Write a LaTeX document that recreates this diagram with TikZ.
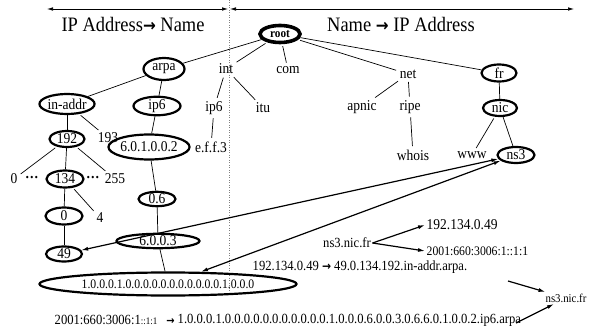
\documentclass[tikz,border=0pt]{standalone}
\usepackage{fontspec}
\setmainfont{Liberation Serif}[FakeStretch=0.9]
\newfontfamily\arrowfont{DejaVu Sans}[FakeStretch=0.9]
\usetikzlibrary{shapes.geometric,arrows.meta}

\tikzset{
  dom/.style={ellipse, draw, line width=2.2pt, inner sep=0pt, font=\fontsize{15}{15}\selectfont},
  lbl/.style={inner sep=1.5pt, font=\fontsize{15}{15}\selectfont},
  edge/.style={line width=0.7pt},
  tedge/.style={line width=0.7pt, shorten >=2pt, shorten <=2pt},
  link/.style={line width=1.2pt, {Latex[length=7pt,width=4pt]}-{Latex[length=7pt,width=4pt]}},
  oneway/.style={line width=1.2pt, -{Latex[length=7pt,width=4pt]}},
  title/.style={inner sep=0pt, font=\fontsize{20.5}{20.5}\selectfont},
}
\newcommand{\rarr}{{\arrowfont\bfseries →}}

\begin{document}
\begin{tikzpicture}[x=1pt,y=-1pt]
\useasboundingbox (0,0) rectangle (594,331);

% direction arrows and divider
\coordinate (lt) at (47,9);
\coordinate (lm) at (228,9);
\coordinate (rm) at (230,9);
\coordinate (rt) at (574,9);
\coordinate (dtop) at (229,0);
\coordinate (dbot) at (229,292);
\draw[line width=0.6pt, {Latex[length=6pt,width=3.5pt]}-{Latex[length=6pt,width=3.5pt]}] (lt) -- (lm);
\draw[line width=0.6pt, {Latex[length=6pt,width=3.5pt]}-{Latex[length=6pt,width=3.5pt]}] (rm) -- (rt);
\draw[gray, line width=0.5pt, dotted] (dtop) -- (dbot);

\node[title] (tleft) at (133,24) {IP Address{\fontsize{17}{17}\selectfont\rarr} Name};
\node[title] (tright) at (401,24) {Name {\fontsize{17}{17}\selectfont\rarr} IP Address};

% tree of domains
\node[dom, line width=3.6pt, minimum width=40pt, minimum height=17pt, font=\fontsize{12.5}{12.5}\selectfont\bfseries] (root) at (280,34) {root};
\node[dom, minimum width=41pt, minimum height=22pt] (arpa) at (164,69) {arpa};
\node[lbl] (int) at (226,69) {int};
\node[lbl] (com) at (288,70) {com};
\node[lbl] (net) at (408,74) {net};
\node[dom, minimum width=35pt, minimum height=17pt] (fr) at (499,73) {fr};

\node[dom, minimum width=48pt, minimum height=20pt] (inaddr) at (67,104) {in-addr};
\node[dom, minimum width=47pt, minimum height=18pt] (ipsix) at (157,106) {ip6};
\node[lbl] (ipsixi) at (214,108) {ip6};
\node[lbl] (itu) at (263,108) {itu};
\node[lbl] (apnic) at (362,107) {apnic};
\node[lbl] (ripe) at (410,107) {ripe};
\node[dom, minimum width=34pt, minimum height=16pt] (nic) at (500,108) {nic};

\node[dom, minimum width=35pt, minimum height=16pt] (n192) at (67,139) {192};
\node[lbl] (n193) at (108,138) {193};
\node[dom, minimum width=76pt, minimum height=25pt] (n6012) at (149,147) {6.0.1.0.0.2};
\node[lbl] (eff) at (211,147) {e.f.f.3};
\node[lbl] (whois) at (413,155) {whois};
\node[lbl] (www) at (472,155) {www};
\node[dom, minimum width=37pt, minimum height=16pt] (ns3) at (516,155) {ns3};

\node[lbl] (zero) at (14,179) {0};
\node[lbl, font=\fontsize{15}{15}\selectfont\bfseries] (dotsl) at (32,179) {···};
\node[dom, minimum width=37pt, minimum height=17pt] (n134) at (65,179) {134};
\node[lbl, font=\fontsize{15}{15}\selectfont\bfseries] (dotsr) at (93,179) {···};
\node[lbl] (n255) at (115,179) {255};
\node[dom, minimum width=37pt, minimum height=14pt] (n06) at (157,199) {0.6};
\node[dom, minimum width=37pt, minimum height=17pt] (n0) at (64,216) {0};
\node[lbl] (four) at (100,218) {4};
\node[dom, minimum width=83pt, minimum height=14pt] (n6003) at (158,241) {6.0.0.3};
\node[dom, minimum width=36pt, minimum height=15pt] (n49) at (64,254) {49};
\node[dom, minimum width=257pt, minimum height=23pt, font=\fontsize{13}{13}\selectfont] (big) at (168,284) {1.0.0.0.1.0.0.0.0.0.0.0.0.0.0.0.1.0.0.0};

% tree edges
\draw[edge] (root) -- (arpa);
\draw[tedge] (root) -- (int);
\draw[tedge] (root) -- (com);
\draw[tedge] (root) -- (net);
\draw[edge] (root) -- (fr);
\draw[edge] (arpa) -- (inaddr);
\draw[edge] (arpa) -- (ipsix);
\draw[tedge] (int) -- (ipsixi);
\draw[tedge] (int) -- (itu);
\draw[tedge] (net) -- (apnic);
\draw[tedge] (net) -- (ripe);
\draw[edge] (fr) -- (nic);
\draw[edge] (inaddr) -- (n192);
\draw[tedge] (inaddr) -- (n193);
\draw[edge] (ipsix) -- (n6012);
\draw[tedge] (ipsixi) -- (eff);
\draw[tedge] (ripe) -- (whois);
\draw[tedge] (nic) -- (www);
\draw[edge] (nic) -- (ns3);
\draw[tedge] (n192) -- (zero);
\draw[edge] (n192) -- (n134);
\draw[tedge] (n192) -- (n255);
\draw[edge] (n6012) -- (n06);
\draw[edge] (n134) -- (n0);
\draw[tedge] (n134) -- (four);
\draw[edge] (n06) -- (n6003);
\draw[edge] (n0) -- (n49);
\draw[edge] (n6003) -- (big);

% name server links
\draw[link] (n49) -- (ns3);
\draw[link] (big) -- (ns3);

% lookups
\node[lbl, font=\fontsize{14}{14}\selectfont] (nsfr) at (347,243) {ns3.nic.fr};
\node[lbl, anchor=west, font=\fontsize{15}{15}\selectfont] (afour) at (425,225) {192.134.0.49};
\node[lbl, anchor=west, font=\fontsize{13}{13}\selectfont] (asix) at (425,251) {2001:660:3006:1::1:1};
\draw[oneway] (nsfr.east) -- (afour.west);
\draw[oneway] (nsfr.east) -- (asix.west);

\node[lbl, anchor=west, font=\fontsize{14}{14}\selectfont] (revfour) at (251,267) {192.134.0.49 {\fontsize{12}{12}\selectfont\rarr} 49.0.134.192.in-addr.arpa.};
\node[lbl, font=\fontsize{12}{12}\selectfont] (nsfrb) at (566,298) {ns3.nic.fr};
\node[lbl, anchor=west, font=\fontsize{14}{14}\selectfont] (revsixa) at (53,320) {2001:660:3006:1{\fontsize{10}{10}\selectfont ::1:1}\hspace{9pt}{\fontsize{11}{11}\selectfont\rarr}};
\node[lbl, anchor=west, font=\fontsize{14}{14}\selectfont] (revsix) at (176,320) {1.0.0.0.1.0.0.0.0.0.0.0.0.0.0.0.1.0.0.0.6.0.0.3.0.6.6.0.1.0.0.2.ip6.arpa};
\coordinate (revtail) at (508,281);
\coordinate (sixtail) at (516,323);
\draw[oneway] (revtail) -- (nsfrb);
\draw[oneway] (sixtail) -- (nsfrb);
\end{tikzpicture}
\end{document}
